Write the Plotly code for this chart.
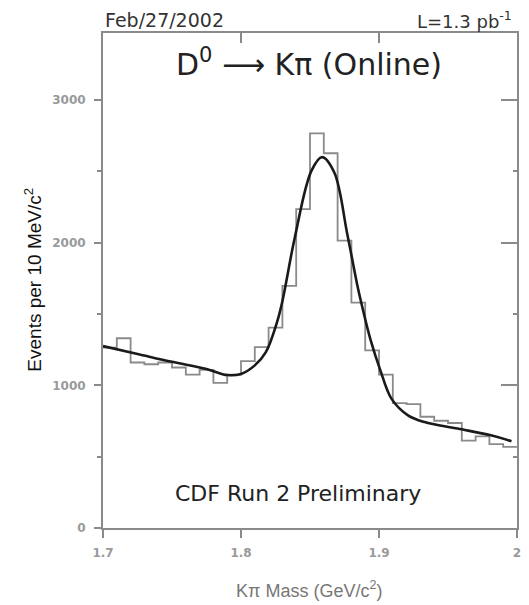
import plotly.graph_objects as go

# Histogram: bin edges (GeV/c^2) and counts per 10 MeV/c^2
bin_edges = [1.70, 1.71, 1.72, 1.73, 1.74, 1.75, 1.76, 1.77, 1.78, 1.79,
             1.80, 1.81, 1.82, 1.83, 1.84, 1.85, 1.86, 1.87, 1.88, 1.89,
             1.90, 1.91, 1.92, 1.93, 1.94, 1.95, 1.96, 1.97, 1.98, 1.99, 2.00]
counts = [1265, 1330, 1160, 1148, 1160, 1125, 1075, 1108, 1018, 1075,
          1170, 1268, 1405, 1698, 2236, 2767, 2627, 2014, 1580, 1245,
          1075, 875, 868, 780, 752, 736, 613, 643, 588, 569]

# Fit curve
fit_x = [1.700, 1.725, 1.750, 1.775, 1.790, 1.800, 1.810, 1.818, 1.826, 1.830,
         1.839, 1.851, 1.8587, 1.8676, 1.877, 1.8846, 1.8868, 1.894, 1.901,
         1.909, 1.921, 1.933, 1.957, 1.981, 1.996]
fit_y = [1275, 1220, 1165, 1115, 1072, 1080, 1140, 1233, 1440, 1590,
         2037, 2503, 2600, 2492, 2061, 1688, 1594, 1315, 1105,
         907, 790, 743, 697, 650, 608]

x_ticks = [1.7, 1.8, 1.9, 2.0]
x_tick_text = ["1.7", "1.8", "1.9", "2"]
y_ticks = [0, 1000, 2000, 3000]
y_tick_text = ["0", "1000", "2000", "3000"]

step_x = bin_edges
step_y = counts + [counts[-1]]

GRAY = "#8a8a8a"
fig = go.Figure()
fig.add_trace(go.Scatter(x=step_x, y=step_y, mode="lines", line_shape="hv",
                         line=dict(color=GRAY, width=1.8), hoverinfo="skip"))
fig.add_trace(go.Scatter(x=fit_x, y=fit_y, mode="lines", line_shape="spline",
                         line=dict(color="#1a1a1a", width=2.6), hoverinfo="skip"))
# dummy trace for mirrored axes
fig.add_trace(go.Scatter(x=[None], y=[None], xaxis="x2", yaxis="y2", showlegend=False))

tickfont = dict(family="DejaVu Sans", size=12, color="#999999", weight="bold")
fig.update_layout(
    width=529, height=605,
    margin=dict(l=103, r=8, t=33, b=77),
    paper_bgcolor="white", plot_bgcolor="white",
    showlegend=False,
    xaxis=dict(range=[1.7, 2.0], tickvals=x_ticks, ticktext=x_tick_text,
               ticks="outside", ticklen=8, tickwidth=1.5, tickcolor=GRAY,
               showline=True, linecolor=GRAY, linewidth=2, showgrid=False,
               zeroline=False, tickfont=tickfont, ticklabelstandoff=5),
    yaxis=dict(range=[0, 3470], tickvals=y_ticks, ticktext=y_tick_text,
               ticks="outside", ticklen=7, tickwidth=1.5, tickcolor=GRAY,
               minor=dict(dtick=500, tick0=0, ticks="outside", ticklen=4, tickcolor=GRAY, tickwidth=1.5),
               showline=True, linecolor=GRAY, linewidth=2, showgrid=False,
               zeroline=False, tickfont=tickfont, ticklabelstandoff=6),
    xaxis2=dict(range=[1.7, 2.0], overlaying="x", side="top", tickvals=x_ticks,
                ticks="inside", ticklen=10, tickwidth=1.5, tickcolor=GRAY,
                showticklabels=False, showline=True, linecolor=GRAY, linewidth=2,
                showgrid=False, zeroline=False),
    yaxis2=dict(range=[0, 3470], overlaying="y", side="right", tickvals=y_ticks,
                ticks="inside", ticklen=16, tickwidth=1.5, tickcolor=GRAY,
                minor=dict(dtick=500, tick0=0, ticks="inside", ticklen=4, tickcolor=GRAY, tickwidth=1.5),
                showticklabels=False, showline=True, linecolor=GRAY, linewidth=2,
                showgrid=False, zeroline=False),
)

ann_font = "DejaVu Sans, Liberation Sans"
fig.add_annotation(text="Feb/27/2002", xref="paper", yref="paper", x=0, y=1.026,
                   xanchor="left", yanchor="middle", showarrow=False,
                   font=dict(family=ann_font, size=19, color="#333333"))
fig.add_annotation(text="L=1.3 pb<sup>-1</sup>", xref="paper", yref="paper", x=0.993, y=1.026,
                   xanchor="right", yanchor="middle", showarrow=False,
                   font=dict(family=ann_font, size=18, color="#333333"))
fig.add_annotation(text="D<sup>0</sup> ⟶ Kπ (Online)", xref="paper", yref="paper",
                   x=0.497, y=0.941, xanchor="center", yanchor="middle", showarrow=False,
                   font=dict(family=ann_font, size=30, color="#222222"))
fig.add_annotation(text="CDF Run 2 Preliminary", xref="paper", yref="paper",
                   x=0.471, y=0.0707, xanchor="center", yanchor="middle", showarrow=False,
                   font=dict(family=ann_font, size=22, color="#222222"))
fig.add_annotation(text="Events per 10 MeV/c<sup>2</sup>", xref="paper", yref="paper",
                   x=-0.17, y=0.501, xanchor="center", yanchor="middle", textangle=-90,
                   showarrow=False, font=dict(family="Liberation Sans, Arial", size=19, color="#111111"))
fig.add_annotation(text="Kπ Mass (GeV/c<sup>2</sup>)", xref="paper", yref="paper",
                   x=0.498, y=-0.125, xanchor="center", yanchor="middle", showarrow=False,
                   font=dict(family="Liberation Sans, Arial", size=18, color="#777777"))

fig.write_html("out.html")
